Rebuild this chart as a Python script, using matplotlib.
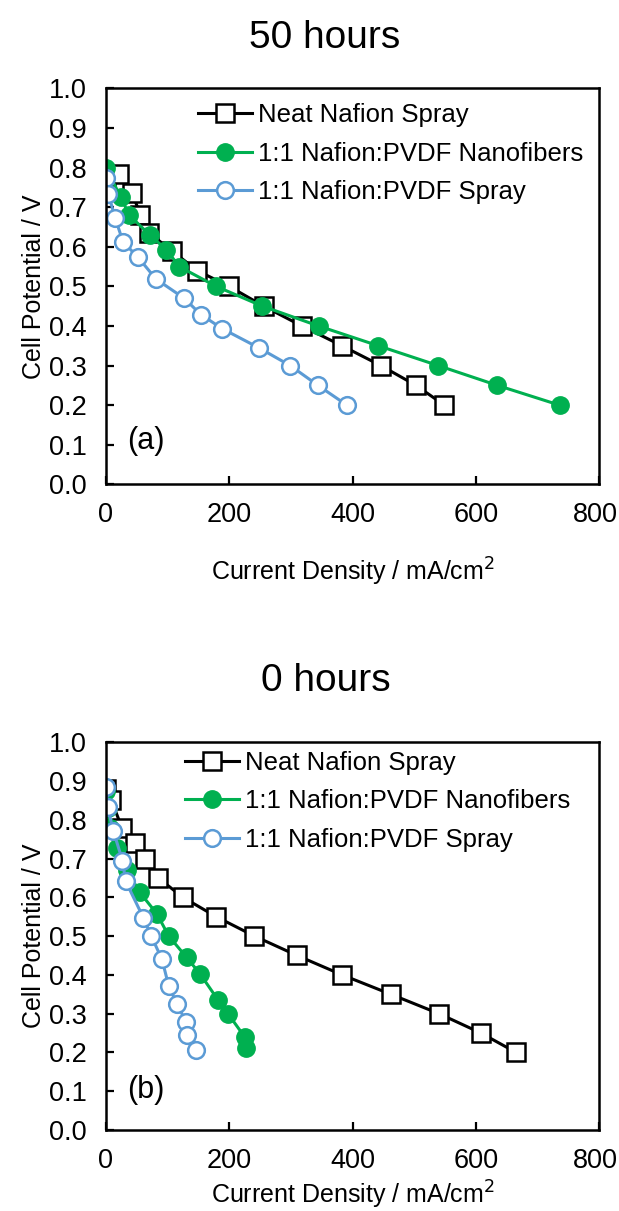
import matplotlib
matplotlib.use("Agg")
import matplotlib.pyplot as plt
from matplotlib.transforms import ScaledTranslation

plt.rcParams['font.family'] = ['Liberation Sans', 'DejaVu Sans']

# 50 hours (a)
neat50_j = [0, 22, 43, 56, 70, 107, 148, 200, 256, 318, 383, 446, 503, 549]
neat50_v = [0.78, 0.785, 0.735, 0.68, 0.635, 0.59, 0.54, 0.50, 0.45, 0.40, 0.35, 0.30, 0.25, 0.20]
nano50_j = [0, 24, 38, 71, 98, 119, 179, 254, 345, 442, 539, 635, 736]
nano50_v = [0.80, 0.726, 0.68, 0.63, 0.593, 0.55, 0.50, 0.45, 0.40, 0.35, 0.30, 0.25, 0.20]
spray50_j = [0, 4, 15, 28, 52, 81, 127, 154, 189, 248, 299, 344, 391]
spray50_v = [0.775, 0.734, 0.673, 0.612, 0.574, 0.519, 0.47, 0.429, 0.393, 0.345, 0.30, 0.25, 0.20]

# 0 hours (b)
neat0_j = [0, 9, 26, 48, 64, 85, 125, 179, 241, 310, 383, 462, 540, 608, 665]
neat0_v = [0.88, 0.85, 0.78, 0.74, 0.70, 0.65, 0.60, 0.55, 0.50, 0.45, 0.40, 0.35, 0.30, 0.25, 0.20]
nano0_j = [0, 3, 6, 18, 34, 55, 83, 102, 131, 153, 182, 198, 225, 227]
nano0_v = [0.875, 0.83, 0.78, 0.727, 0.67, 0.613, 0.557, 0.50, 0.445, 0.402, 0.335, 0.30, 0.24, 0.211]
spray0_j = [0, 3, 12, 27, 32, 61, 74, 91, 102, 115, 130, 132, 146]
spray0_v = [0.885, 0.832, 0.772, 0.695, 0.642, 0.547, 0.499, 0.44, 0.371, 0.326, 0.279, 0.244, 0.205]

labels = ["Neat Nafion Spray", "1:1 Nafion:PVDF Nanofibers", "1:1 Nafion:PVDF Spray"]
green = "#00B050"
blue = "#5B9BD5"

fig = plt.figure(figsize=(6.19, 12.11), dpi=100)
ax1 = fig.add_axes([0.171, 0.600, 0.797, 0.327])
ax2 = fig.add_axes([0.171, 0.067, 0.797, 0.320])


def draw(ax, neat, nano, spray, tag, leg_anchor, tag_y, xpad):
    ax.plot(neat[0], neat[1], color="black", lw=2.2, marker="s", ms=12.5,
            mfc="white", mec="black", mew=1.8, label=labels[0])
    ax.plot(nano[0], nano[1], color=green, lw=2.2, marker="o", ms=12.5,
            mfc=green, mec=green, label=labels[1])
    ax.plot(spray[0], spray[1], color=blue, lw=2.2, marker="o", ms=12,
            mfc="white", mec=blue, mew=1.8, label=labels[2])
    ax.set_xlim(0, 800)
    ax.set_ylim(0, 1.0)
    ax.set_xticks([0, 200, 400, 600, 800])
    ax.set_yticks([i / 10 for i in range(11)])
    ax.set_yticklabels([f"{i / 10:.1f}" for i in range(11)])
    ax.tick_params(direction="in", length=6, width=1.6, labelsize=19.5)
    ax.tick_params(axis="x", pad=13)
    ax.tick_params(axis="y", pad=14)
    # nudge the last x label so it stays inside the figure
    last = ax.get_xticklabels()[-1]
    last.set_transform(last.get_transform() + ScaledTranslation(-3 / 72, 0, fig.dpi_scale_trans))
    for s in ax.spines.values():
        s.set_linewidth(1.8)
    ax.set_xlabel("Current Density / mA/cm$^2$", fontsize=18, labelpad=xpad)
    ax.set_ylabel("Cell Potential / V", fontsize=18, labelpad=2)
    ax.text(0.043, tag_y, tag, transform=ax.transAxes, fontsize=22, va="center")
    ax.legend(loc="upper left", bbox_to_anchor=leg_anchor, frameon=False,
              fontsize=18.5, handlelength=2.1, handletextpad=0.25,
              labelspacing=0.55, borderaxespad=0, borderpad=0)


draw(ax1, (neat50_j, neat50_v), (nano50_j, nano50_v), (spray50_j, spray50_v),
     "(a)", (0.187, 0.962), 0.11, 20)
draw(ax2, (neat0_j, neat0_v), (nano0_j, nano0_v), (spray0_j, spray0_v),
     "(b)", (0.16, 0.977), 0.103, 3.5)

fig.text(0.525, 1 - 38 / 1211, "50 hours", fontsize=28, ha="center", va="center")
fig.text(0.527, 1 - 681 / 1211, "0 hours", fontsize=28, ha="center", va="center")

fig.savefig("out.png", dpi=100)
